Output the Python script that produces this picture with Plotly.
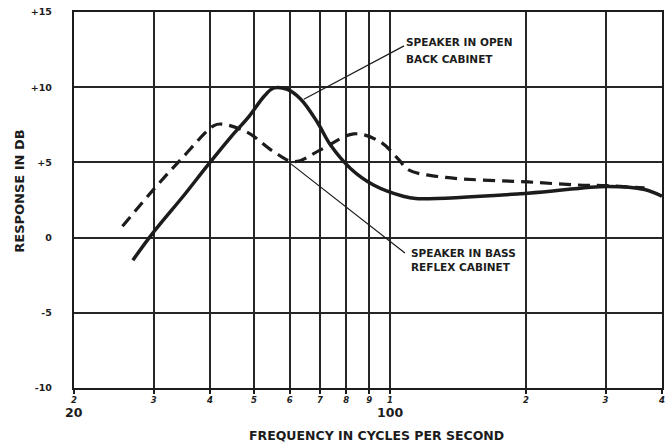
import math
import plotly.graph_objects as go

# Speaker response measurements (frequency in Hz, response in dB)
open_back_freq = [27, 29.7, 35.1, 39.5, 44.5, 48.9, 52.7, 55.4, 59.3, 63.5, 69.0, 73.9, 81.8, 92.0, 107, 114, 202, 303, 366, 400]
open_back_db = [-1.5, 0.2, 2.85, 4.8, 6.7, 8.1, 9.4, 9.95, 9.85, 9.2, 7.7, 6.15, 4.6, 3.5, 2.75, 2.6, 2.95, 3.4, 3.2, 2.75]

bass_reflex_freq = [25.6, 30.2, 34.6, 40.8, 42.4, 48.4, 55.4, 61.4, 70.4, 83.2, 95.4, 104.5, 110, 133, 202, 260, 303, 366]
bass_reflex_db = [0.75, 3.3, 5.25, 7.45, 7.55, 7.0, 5.7, 5.05, 5.85, 6.9, 6.35, 5.2, 4.5, 4.0, 3.7, 3.5, 3.45, 3.3]

x_tick_vals = [20, 30, 40, 50, 60, 70, 80, 90, 100, 200, 300, 400]
x_tick_text = ["2", "3", "4", "5", "6", "7", "8", "9", "1", "2", "3", "4"]
y_tick_vals = [-10, -5, 0, 5, 10, 15]
y_tick_text = ["-10", "-5", "0", "+5", "+10", "+15"]

INK = "#1c1c1c"
GRID = "#262626"
FONT = "DejaVu Sans"

fig = go.Figure()
fig.add_trace(go.Scatter(
    x=bass_reflex_freq, y=bass_reflex_db, mode="lines", line_shape="spline",
    line=dict(color=INK, width=3.2, dash="12px,7px"), hoverinfo="skip", showlegend=False))
fig.add_trace(go.Scatter(
    x=open_back_freq, y=open_back_db, mode="lines", line_shape="spline",
    line=dict(color=INK, width=3.5), hoverinfo="skip", showlegend=False))

L = math.log10
annotations = []

# Leader lines from the captions to the curves
for head, tail in [((64.5, 9.2), (108.3, 12.8)), ((60.4, 4.9), (108.8, -1.1))]:
    annotations.append(dict(
        x=L(head[0]), y=head[1], ax=L(tail[0]), ay=tail[1], xref="x", yref="y",
        axref="x", ayref="y", text="", showarrow=True, arrowhead=0,
        arrowwidth=1.2, arrowcolor=INK))

caption_font = dict(family=FONT, size=10.5, color=INK, weight="bold")
for text, f, db in [("SPEAKER IN OPEN", 107.5, 13.0), ("BACK CABINET", 107.5, 11.9),
                    ("SPEAKER IN BASS", 110, -1.05), ("REFLEX CABINET", 110, -1.95)]:
    annotations.append(dict(x=L(f), y=db, xref="x", yref="y", text=text, showarrow=False,
                            xanchor="left", yanchor="middle", font=caption_font))

# Decade labels under the axis
for text, f in [("20", 20), ("100", 100)]:
    annotations.append(dict(x=L(f), y=0, xref="x", yref="paper", yanchor="middle", yshift=-24,
                            text=text, showarrow=False,
                            font=dict(family=FONT, size=12.5, color=INK, weight="bold")))

# Axis titles
annotations.append(dict(x=0.514, y=0, xref="paper", yref="paper", yanchor="middle", yshift=-47,
                        text="FREQUENCY IN CYCLES PER SECOND", showarrow=False,
                        font=dict(family=FONT, size=12.5, color=INK, weight="bold")))
annotations.append(dict(x=0, y=0.522, xref="paper", yref="paper", xanchor="center", yanchor="middle",
                        xshift=-54, text="RESPONSE IN DB", textangle=-90, showarrow=False,
                        font=dict(family=FONT, size=13, color=INK, weight="bold")))

fig.update_layout(
    width=671, height=446,
    margin=dict(l=74, r=6, t=9, b=58),
    paper_bgcolor="white", plot_bgcolor="white",
    annotations=annotations,
    xaxis=dict(
        type="log", range=[L(20), L(400)],
        tickmode="array", tickvals=x_tick_vals, ticktext=x_tick_text,
        tickfont=dict(family=FONT, size=8.5, color=INK, weight="bold", style="italic"),
        ticks="outside", ticklen=4, tickwidth=1.8, tickcolor=INK, ticklabelstandoff=-1,
        showgrid=True, gridcolor=GRID, gridwidth=1.8,
        showline=True, linecolor=INK, linewidth=2.4, mirror=True, zeroline=False),
    yaxis=dict(
        range=[-10, 15],
        tickmode="array", tickvals=y_tick_vals, ticktext=y_tick_text,
        tickfont=dict(family=FONT, size=9.5, color=INK, weight="bold"),
        ticks="", ticklabelstandoff=18,
        showgrid=True, gridcolor=GRID, gridwidth=1.8,
        showline=True, linecolor=INK, linewidth=2.4, mirror=True, zeroline=False),
)

fig.write_html("out.html")
